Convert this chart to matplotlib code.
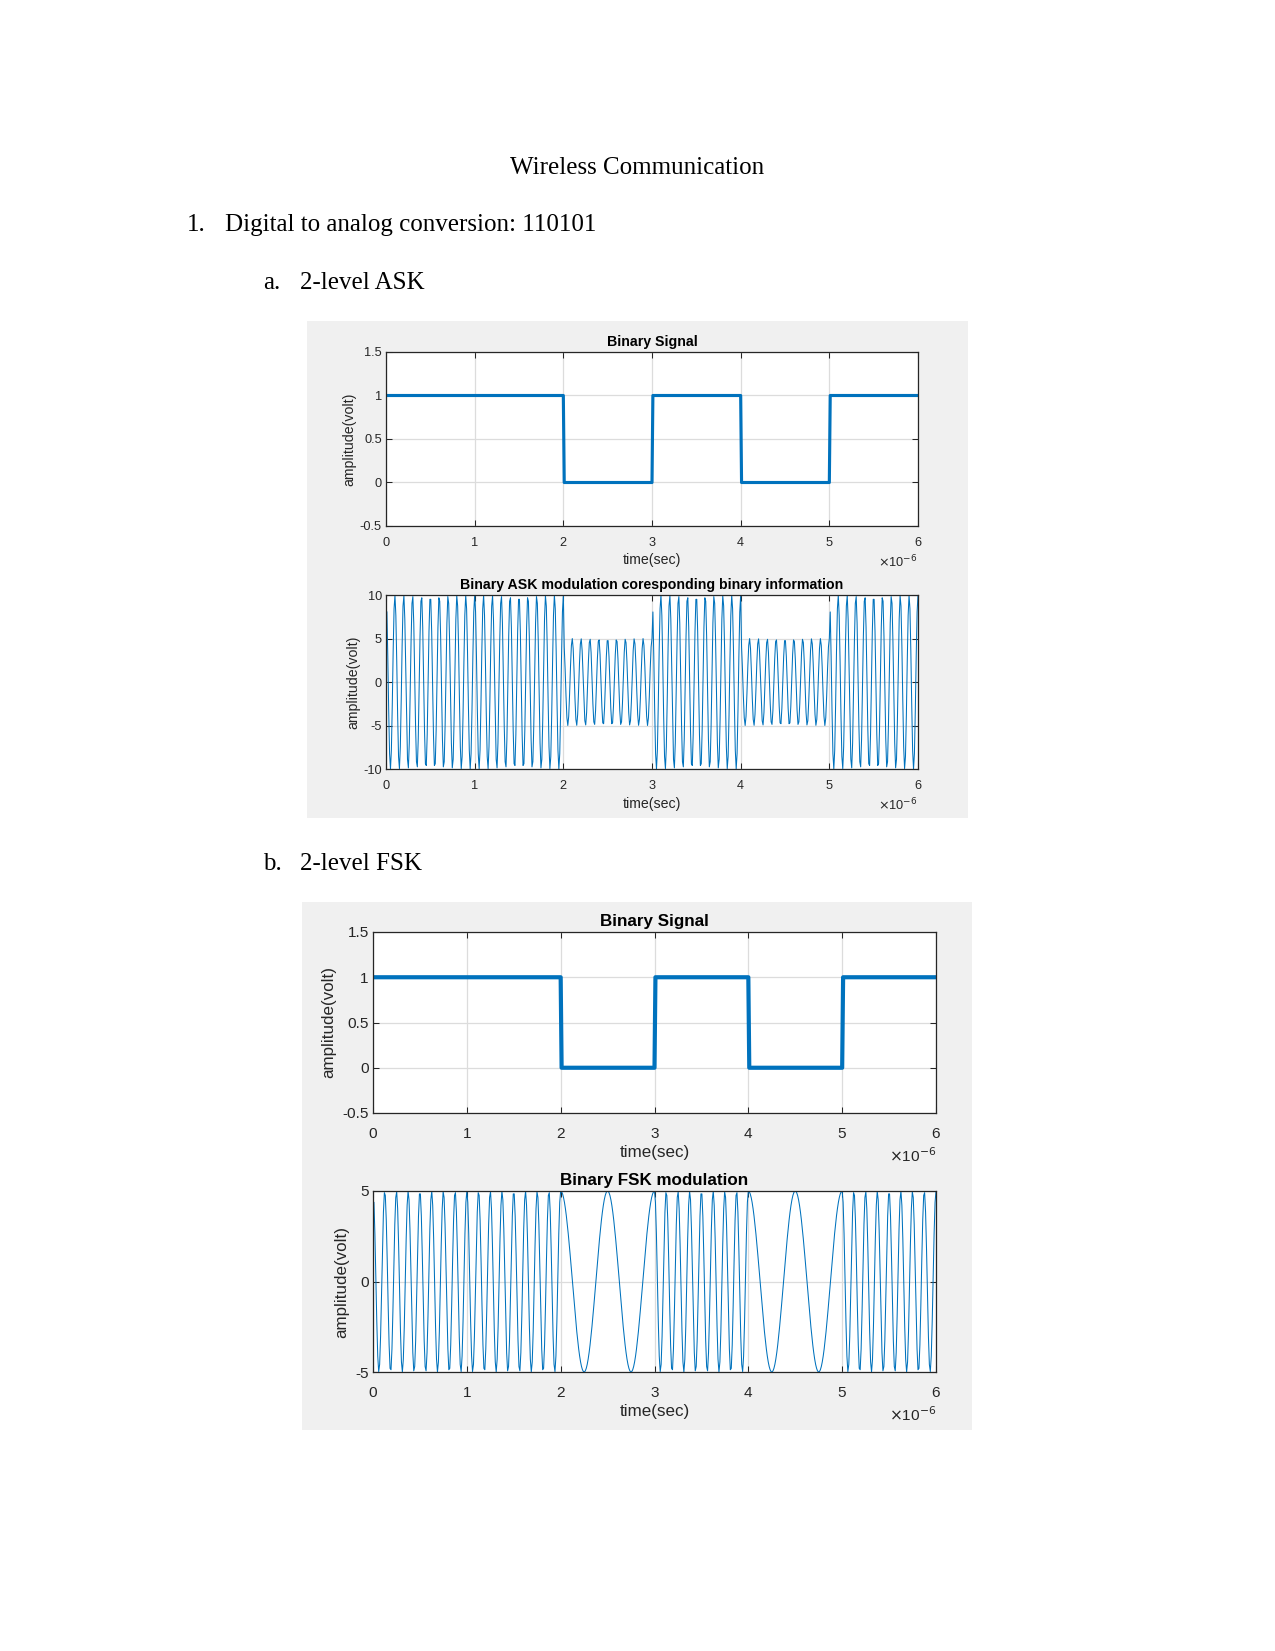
import matplotlib.pyplot as plt
import numpy as np
from matplotlib.patches import Rectangle
from matplotlib.ticker import FuncFormatter

# message bits and modulation settings
bits = [1, 1, 0, 1, 0, 1]
bit_period = 1e-6
ask_amp = {1: 10, 0: 5}        # amplitude for bit 1 / bit 0
ask_cycles = 10                # carrier cycles per bit
fsk_amp = 5
fsk_cycles = {1: 8, 0: 2}      # cycles per bit for bit 1 / bit 0

bin_yticks = [-0.5, 0, 0.5, 1, 1.5]
ask_yticks = [-10, -5, 0, 5, 10]
fsk_yticks = [-5, 0, 5]
xticks = [0, 1, 2, 3, 4, 5, 6]

W, H = 1275, 1651
BLUE = '#0072BD'
DARK = '#262626'
plt.rcParams['font.family'] = ['Liberation Sans', 'DejaVu Sans']


def binary_signal():
    t = bit_period / 100 * np.arange(1, 100 * len(bits) + 1)
    y = np.repeat(bits, 100)
    return t, y


def ask_signal():
    t2 = bit_period / 99 * np.arange(1, 100)
    f = ask_cycles / bit_period
    y = np.concatenate([ask_amp[b] * np.cos(2 * np.pi * f * t2) for b in bits])
    t = bit_period / 99 * np.arange(1, 99 * len(bits) + 1)
    return t, y


def fsk_signal():
    t2 = bit_period / 99 * np.arange(1, 100)
    y = np.concatenate([fsk_amp * np.cos(2 * np.pi * fsk_cycles[b] / bit_period * t2) for b in bits])
    t = bit_period / 99 * np.arange(1, 99 * len(bits) + 1)
    return t, y


def px_rect(l, r, t, b):
    return [l / W, 1 - b / H, (r - l) / W, (b - t) / H]


def matlab_axes(fig, rect, x, y, lw, yticks, ylim, title, fs, exp_y, ylpad):
    ax = fig.add_axes(px_rect(*rect))
    ax.plot(x, y, color=BLUE, lw=lw)
    ax.set_xlim(0, bit_period * len(bits))
    ax.set_ylim(*ylim)
    ax.set_xticks([v * bit_period for v in xticks])
    ax.xaxis.set_major_formatter(FuncFormatter(lambda v, p: '%g' % round(v / bit_period, 6)))
    ax.set_yticks(yticks)
    ax.yaxis.set_major_formatter(FuncFormatter(lambda v, p: '%g' % v))
    ax.grid(True, color='#dcdcdc', lw=0.6)
    ax.set_axisbelow(True)
    ax.tick_params(direction='in', top=True, right=True, length=3, width=0.5,
                   labelsize=fs * 0.9, colors=DARK)
    ax.tick_params(axis='x', pad=fs * 0.8)
    ax.tick_params(axis='y', pad=2)
    for s in ax.spines.values():
        s.set_color(DARK)
        s.set_linewidth(0.6)
    ax.set_title(title, fontsize=fs, fontweight='bold', color='black', pad=3)
    ax.set_xlabel('time(sec)', fontsize=fs, color=DARK, labelpad=2)
    ax.set_ylabel('amplitude(volt)', fontsize=fs, color=DARK, labelpad=ylpad)
    ax.text(1.0, exp_y, r'$\times$10$^{-6}$', transform=ax.transAxes, ha='right', va='top',
            fontsize=fs * 0.9, color=DARK)
    return ax


fig = plt.figure(figsize=(W / 150, H / 150), dpi=150)
fig.patch.set_facecolor('white')

serif = ['Liberation Serif', 'DejaVu Serif']
fig.text(637 / W, 1 - 168 / H, 'Wireless Communication', ha='center', va='center', fontsize=12, family=serif)
fig.text(187 / W, 1 - 225 / H, '1.', va='center', fontsize=12, family=serif)
fig.text(225 / W, 1 - 225 / H, 'Digital to analog conversion: 110101', va='center', fontsize=12, family=serif)
fig.text(263 / W, 1 - 283 / H, 'a.', va='center', fontsize=12, family=serif)
fig.text(300 / W, 1 - 283 / H, '2-level ASK', va='center', fontsize=12, family=serif)
fig.text(263 / W, 1 - 864 / H, 'b.', va='center', fontsize=12, family=serif)
fig.text(300 / W, 1 - 864 / H, '2-level FSK', va='center', fontsize=12, family=serif)

# grey figure backgrounds of the two screenshots
fig.patches.append(Rectangle((307 / W, 1 - 818 / H), 661 / W, 497 / H, transform=fig.transFigure,
                             facecolor='#f0f0f0', edgecolor='none', zorder=-1))
fig.patches.append(Rectangle((302 / W, 1 - 1430 / H), 670 / W, 528 / H, transform=fig.transFigure,
                             facecolor='#f0f0f0', edgecolor='none', zorder=-1))

tb, yb = binary_signal()
ta, ya = ask_signal()
tf, yf = fsk_signal()

matlab_axes(fig, (386, 918, 352, 526), tb, yb, 1.5, bin_yticks, (-0.5, 1.5), 'Binary Signal', 6.8, -0.16, 1.5)
matlab_axes(fig, (386, 918, 595, 769), ta, ya, 0.5, ask_yticks, (-10, 10),
            'Binary ASK modulation coresponding binary information', 6.8, -0.16, 1.5)
matlab_axes(fig, (373, 936, 932, 1113), tb, yb, 2.0, bin_yticks, (-0.5, 1.5), 'Binary Signal', 8.2, -0.185, 3)
matlab_axes(fig, (373, 936, 1191, 1372), tf, yf, 0.5, fsk_yticks, (-5, 5), 'Binary FSK modulation', 8.2, -0.185, 3)

fig.savefig('out.png', dpi=150, facecolor='white')
